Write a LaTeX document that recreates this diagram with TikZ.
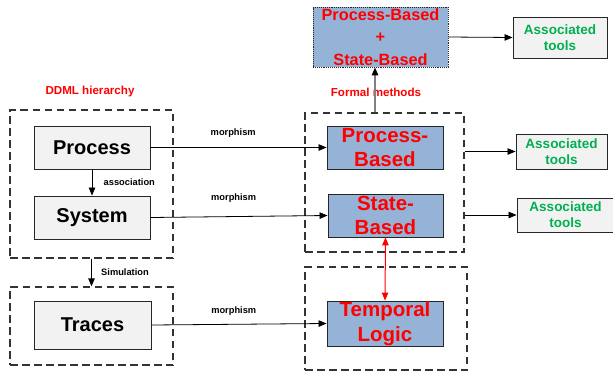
\documentclass[tikz,border=0pt]{standalone}
\usepackage{fontspec}
\setmainfont{Liberation Sans}
\usepackage{tikz}
\usepackage{xcolor}
\usetikzlibrary{positioning,arrows.meta}

\definecolor{boxgray}{HTML}{F2F2F2}
\definecolor{fmblue}{HTML}{95B3D7}
\definecolor{toolgreen}{HTML}{00B050}

\begin{document}
\begin{tikzpicture}[x=1pt, y=-1pt,
        ddml/.style={draw=black!85, fill=boxgray, line width=0.9pt, inner sep=0pt,
            font=\fontsize{20}{24}\selectfont\bfseries},
        fmbox/.style={draw=black!85, fill=fmblue, line width=0.9pt, inner sep=0pt,
            text=red, align=center, font=\fontsize{20.5}{24.5}\selectfont\bfseries},
        tools/.style={draw=black!85, fill=boxgray, line width=0.9pt, inner sep=0pt,
            text=toolgreen, align=center, font=\fontsize{13.5}{16}\selectfont\bfseries},
        frame/.style={draw=black!80, line width=1.3pt, dash pattern=on 7.5pt off 4.5pt, inner sep=0pt},
        lbl/.style={font=\fontsize{9.3}{11}\selectfont\bfseries},
        title/.style={text=red, font=\fontsize{11.6}{14}\selectfont\bfseries},
        arr/.style={line width=0.8pt, -{Triangle[length=8pt,width=6.5pt]}}]
    \useasboundingbox (0,0) rectangle (613,372);

    % dashed groups
    \node[frame, minimum width=163pt, minimum height=148pt] (ddmlgrp) at (91.5,184) {};
    \node[frame, minimum width=163pt, minimum height=78pt] (tracegrp) at (91.5,326) {};
    \node[frame, minimum width=159pt, minimum height=139pt] (formalgrp) at (384.5,182.5) {};
    \node[frame, minimum width=162pt, minimum height=103pt] (tempgrp) at (386,318.5) {};

    \node[title] (ddmltitle) at (90,91) {DDML hierarchy};
    \node[title] (formaltitle) at (376,92) {Formal methods};

    % DDML side
    \node[ddml, minimum width=116pt, minimum height=43pt] (process) at (92,147.5) {Process};
    \node[ddml, minimum width=116pt, minimum height=43pt] (system) at (92,217.5) {System};
    \node[ddml, minimum width=117pt, minimum height=48pt] (traces) at (92.5,325) {Traces};

    % formal side
    \node[fmbox, minimum width=116pt, minimum height=43pt] (procbased) at (385,147.5) {Process-\\Based};
    \node[fmbox, minimum width=115pt, minimum height=43pt] (statebased) at (385.5,215.5) {State-\\Based};
    \node[fmbox, minimum width=116pt, minimum height=45pt] (temporal) at (385,323.5) {Temporal\\Logic};
    \node[fmbox, densely dotted, minimum width=135pt, minimum height=60pt,
        font=\fontsize{16.3}{22.5}\selectfont\bfseries] (combined) at (380.5,37) {Process-Based\\+\\State-Based};

    % tools
    \node[tools, minimum width=94pt, minimum height=41pt] (tools1) at (560,37.5) {Associated\\tools};
    \node[tools, minimum width=91pt, minimum height=35pt] (tools2) at (561.5,151.5) {Associated\\tools};
    \node[tools, minimum width=97pt, minimum height=34pt] (tools3) at (565.5,215) {Associated\\tools};

    % connectors
    \draw[arr] (process) -- (system) node[midway, right=8pt, lbl] {association};
    \draw[arr] (ddmlgrp.south) -- (tracegrp.north) node[midway, right=6pt, lbl] {Simulation};
    \draw[arr] (process.east) -- (procbased.west) node[pos=0.47, above=6pt, lbl] {morphism};
    \draw[arr] (system.east) -- (statebased.west) node[pos=0.47, above=10pt, lbl] {morphism};
    \draw[arr] (traces.east) -- (temporal.west) node[pos=0.47, above=5pt, lbl] {morphism};
    \draw[draw=black!50, line width=1.5pt, -{Triangle[length=8pt,width=6.5pt,color=black]}]
        ([xshift=-9.5pt]formalgrp.north) -- ([xshift=-5.5pt]combined.south);
    \draw[arr] (combined.east) -- (tools1.west);
    \draw[arr] (formalgrp.east |- tools2.west) -- (tools2.west);
    \draw[arr] (formalgrp.east |- tools3.west) -- (tools3.west);
    \draw[red, line width=1pt, {Triangle[length=8pt,width=6.5pt]}-{Triangle[length=8pt,width=6.5pt]}]
        (statebased.south) -- (temporal.north);
\end{tikzpicture}
\end{document}
